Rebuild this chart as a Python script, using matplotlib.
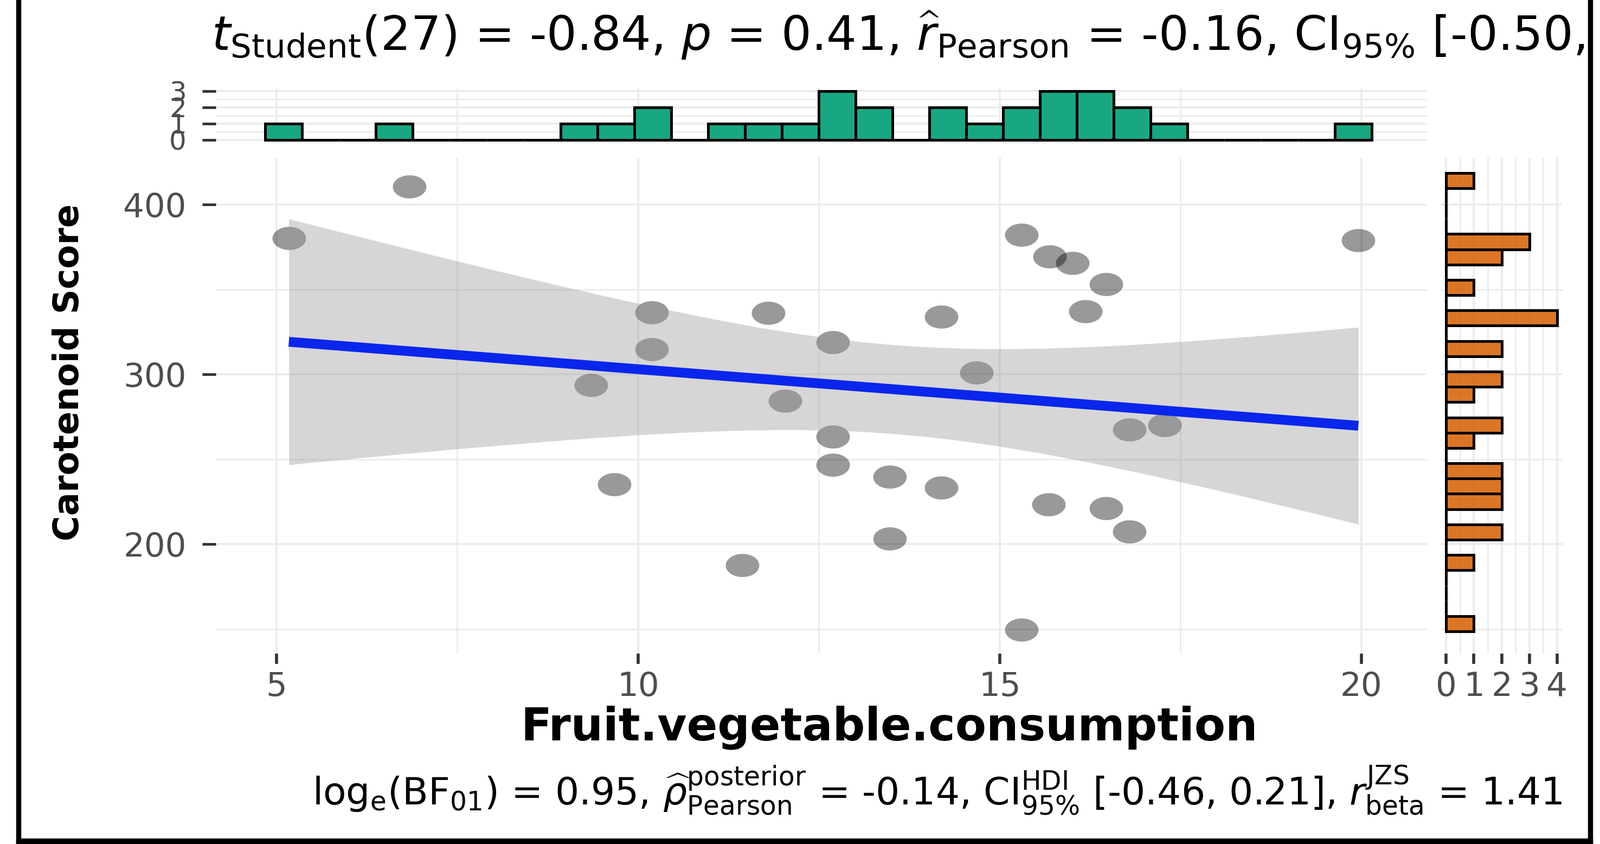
"""
Scatter of carotenoid score against fruit/vegetable consumption with
marginal histograms, styled after a ggstatsplot::ggscatterstats output.
"""

import numpy as np
import matplotlib
matplotlib.use("Agg")
import matplotlib.pyplot as plt
from matplotlib.colors import to_rgba
from matplotlib.patches import Rectangle
from matplotlib.path import Path

# ---------------------------------------------------------------------------
# Data
# ---------------------------------------------------------------------------
fruit_veg = [5.17, 6.84, 9.35, 9.67, 10.19, 10.19, 11.44, 11.80, 12.03,
             12.69, 12.69, 12.69, 13.48, 13.48, 14.19, 14.19, 14.68, 15.30,
             15.30, 15.69, 16.01, 15.68, 16.19, 16.47, 16.47, 16.79, 16.79,
             17.28, 19.96]
carotenoid = [380.2, 410.6, 293.5, 235.2, 336.5, 314.8, 187.5, 336.2, 284.5,
              319.0, 263.3, 246.8, 239.5, 203.1, 334.0, 233.3, 301.0, 382.0,
              149.5, 369.3, 365.4, 223.5, 337.0, 353.0, 221.2, 267.3, 207.4,
              270.1, 379.0]

x_ticks = [5, 10, 15, 20]
y_ticks = [200, 300, 400]
top_count_ticks = [0, 1, 2, 3]
right_count_ticks = [0, 1, 2, 3, 4]

title_text = (r"$t_{\mathrm{Student}}$(27) = -0.84, $p$ = 0.41, "
              r"$\widehat{r}_{\mathrm{Pearson}}$ = -0.16, CI$_{95\%}$ [-0.50,")
caption_text = (r"log$_{\mathrm{e}}$(BF$_{01}$) = 0.95, "
                r"$\widehat{\rho}_{\mathrm{Pearson}}^{\mathrm{posterior}}$ = -0.14, "
                r"CI$_{95\%}^{\mathrm{HDI}}$ [-0.46, 0.21], "
                r"$r_{\mathrm{beta}}^{\mathrm{JZS}}$ = 1.41")

# ---------------------------------------------------------------------------
# Style
# ---------------------------------------------------------------------------
GREEN = "#009E73"
ORANGE = "#D55E00"
BLUE = "#0A26EC"
GRID = "#EBEBEB"
TICK = "#333333"
TICK_TXT = "#4D4D4D"

N_BINS = 30
T_975_DF27 = 2.0518   # t quantile for the 95% band, n - 2 = 27

W, H = 2951, 1556
plt.rcParams.update({
    "font.family": ["DejaVu Sans"],
    "mathtext.fontset": "dejavusans",
})


def gg_breaks(values, bins=N_BINS):
    """Histogram breaks the way ggplot2 builds them for `bins=`."""
    lo, hi = min(values), max(values)
    width = (hi - lo) / (bins - 1)
    boundary = width / 2
    origin = boundary + np.floor((lo - boundary) / width) * width
    return np.arange(origin, hi + (1 - 1e-8) * width, width)


def gg_counts(values, breaks):
    """Right-closed bin counts."""
    v = np.asarray(values)
    return np.array([np.sum((v > a) & (v <= b))
                     for a, b in zip(breaks[:-1], breaks[1:])])


def px_axes(fig, left, top, right, bottom):
    """Add axes from pixel edges (origin top-left)."""
    return fig.add_axes([left / W, 1 - bottom / H,
                         (right - left) / W, (bottom - top) / H])


def clean(ax):
    for sp in ax.spines.values():
        sp.set_visible(False)
    ax.set_axisbelow(True)
    ax.grid(which="major", color=GRID, lw=2.6)
    ax.grid(which="minor", color=GRID, lw=2.0)
    ax.tick_params(which="minor", length=0)


# ---------------------------------------------------------------------------
# Figure
# ---------------------------------------------------------------------------
fig = plt.figure(figsize=(W / 100, H / 100), dpi=100)
fig.patch.set_facecolor("white")

ax = px_axes(fig, 398, 290, 2632, 1205)
ax_top = px_axes(fig, 398, 163, 2632, 262)
ax_right = px_axes(fig, 2657, 290, 2882, 1205)

XLIM = (4.16, 20.91)
YLIM = (135.5, 427.8)

# main panel -----------------------------------------------------------------
x = np.asarray(fruit_veg)
y = np.asarray(carotenoid)
n = len(x)
slope, intercept = np.polyfit(x, y, 1)
resid = y - (intercept + slope * x)
s = np.sqrt(np.sum(resid ** 2) / (n - 2))
grid = np.linspace(x.min(), x.max(), 80)
fit = intercept + slope * grid
se = s * np.sqrt(1 / n + (grid - x.mean()) ** 2 / np.sum((x - x.mean()) ** 2))

theta = np.linspace(0, 2 * np.pi, 64)
ellipse = Path(np.column_stack([1.45 * np.cos(theta), np.sin(theta)]), closed=True)

ax.plot(x, y, linestyle="none", marker=ellipse, markersize=44.6,
        markerfacecolor=(0, 0, 0, 0.4), markeredgewidth=0, zorder=2)
ax.fill_between(grid, fit - T_975_DF27 * se, fit + T_975_DF27 * se,
                color="#999999", alpha=0.4, lw=0, zorder=3)
ax.plot(grid, fit, color=BLUE, lw=13, solid_capstyle="butt", zorder=4)

ax.set_xlim(XLIM)
ax.set_ylim(YLIM)
ax.set_xticks(x_ticks)
ax.set_xticks([7.5, 12.5, 17.5], minor=True)
ax.set_yticks(y_ticks)
ax.set_yticks([150, 250, 350], minor=True)
clean(ax)
ax.tick_params(axis="y", which="major", length=18, width=3.5, color=TICK,
               pad=21, labelsize=44, labelcolor=TICK_TXT)
ax.tick_params(axis="x", which="major", length=14, width=4, color=TICK,
               pad=9, labelsize=44, labelcolor=TICK_TXT)

# top marginal histogram -----------------------------------------------------
xb = gg_breaks(fruit_veg)
xc = gg_counts(fruit_veg, xb)
ax_top.bar(xb[:-1], xc, width=np.diff(xb), align="edge",
           facecolor=to_rgba(GREEN, 0.9), edgecolor="black", lw=3.6, zorder=3)
ax_top.set_xlim(XLIM)
ax_top.set_ylim(-0.15, 3.15)
ax_top.set_xticks(x_ticks)
ax_top.set_xticks([7.5, 12.5, 17.5], minor=True)
ax_top.set_yticks(top_count_ticks)
ax_top.set_yticks([0.5, 1.5, 2.5], minor=True)
clean(ax_top)
ax_top.tick_params(axis="x", which="major", length=0, labelbottom=False)
ax_top.tick_params(axis="y", which="major", length=18, width=3.5, color=TICK,
                   pad=21, labelsize=36, labelcolor=TICK_TXT)

# right marginal histogram ---------------------------------------------------
yb = gg_breaks(carotenoid)
yc = gg_counts(carotenoid, yb)
ax_right.barh(yb[:-1], yc, height=np.diff(yb), align="edge",
              facecolor=to_rgba(ORANGE, 0.85), edgecolor="black", lw=3.6, zorder=3)
ax_right.set_ylim(YLIM)
ax_right.set_xlim(-0.2, 4.2)
ax_right.set_yticks(y_ticks)
ax_right.set_yticks([150, 250, 350], minor=True)
ax_right.set_xticks(right_count_ticks)
ax_right.set_xticks([0.5, 1.5, 2.5, 3.5], minor=True)
clean(ax_right)
ax_right.tick_params(axis="y", which="major", length=0, labelleft=False)
ax_right.tick_params(axis="x", which="major", length=14, width=4, color=TICK,
                     pad=9, labelsize=44, labelcolor=TICK_TXT)

# texts ----------------------------------------------------------------------
fig.text(1640 / W, 1 - 1365 / H, "Fruit.vegetable.consumption",
         ha="center", va="baseline", fontsize=60, fontweight="bold")
fig.text(127 / W, 1 - 686 / H, "Carotenoid Score", rotation=90,
         ha="center", va="center", fontsize=46, fontweight="bold")
fig.text(390 / W, 1 - 93 / H, title_text, ha="left", va="baseline",
         fontsize=63)
fig.text(2882 / W, 1 - 1483 / H, caption_text, ha="right", va="baseline",
         fontsize=50)

# frame ----------------------------------------------------------------------
for (x0, y0, w, h) in [(30, 0, 8, H), (2929, 0, 8, H), (30, 0, 2907, 10)]:
    fig.patches.append(Rectangle((x0 / W, y0 / H), w / W, h / H,
                                 transform=fig.transFigure, color="black",
                                 zorder=10))

fig.savefig("out.png", dpi=100, facecolor="white")
